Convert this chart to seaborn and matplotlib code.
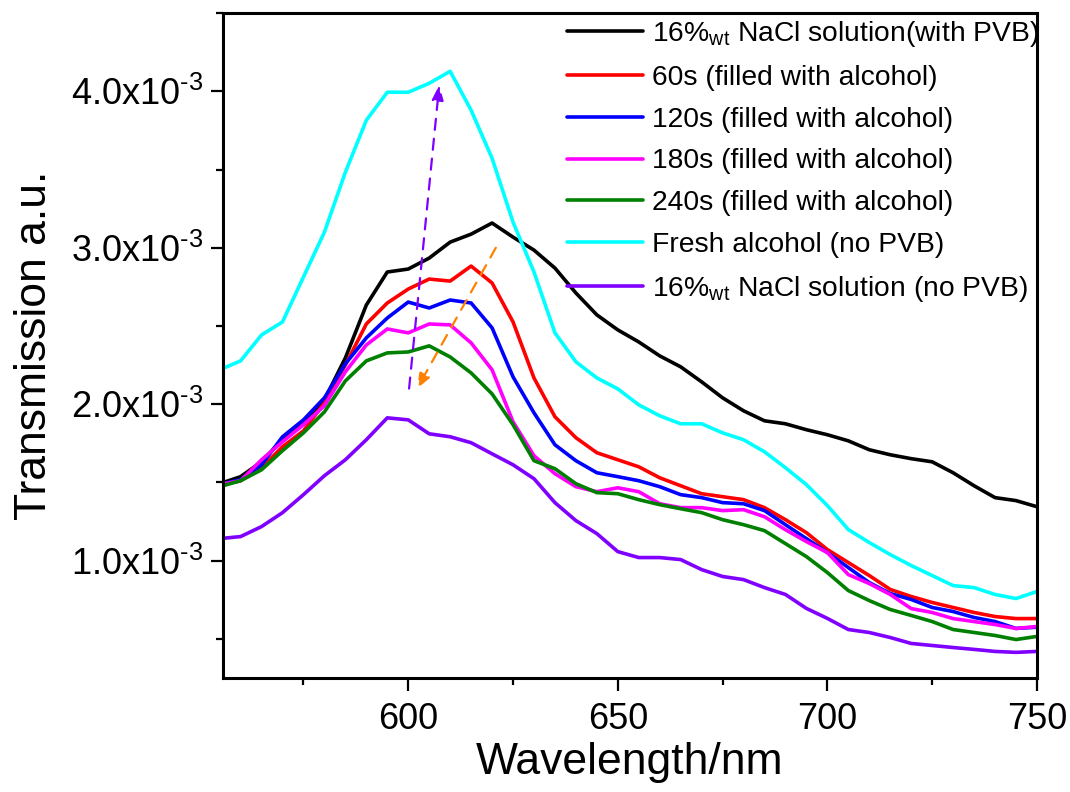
import numpy as np
import pandas as pd
import matplotlib
matplotlib.use("Agg")
import matplotlib.pyplot as plt
import seaborn as sns
from matplotlib.ticker import MultipleLocator, FuncFormatter

# wavelength grid (nm) every 5 nm
wavelength = [555, 560, 565, 570, 575, 580, 585, 590, 595, 600,
              605, 610, 615, 620, 625, 630, 635, 640, 645, 650,
              655, 660, 665, 670, 675, 680, 685, 690, 695, 700,
              705, 710, 715, 720, 725, 730, 735, 740, 745, 750]

# transmission values in units of 1e-3
nacl_pvb = [1.492, 1.537, 1.632, 1.773, 1.881, 2.028, 2.296, 2.634, 2.845, 2.864,
            2.934, 3.036, 3.087, 3.158, 3.068, 2.985, 2.870, 2.711, 2.571, 2.475,
            2.398, 2.309, 2.239, 2.143, 2.041, 1.958, 1.894, 1.875, 1.837, 1.805,
            1.766, 1.709, 1.677, 1.652, 1.632, 1.562, 1.479, 1.403, 1.384, 1.345]
s60 = [1.486, 1.511, 1.594, 1.728, 1.830, 2.009, 2.251, 2.513, 2.647, 2.736,
       2.800, 2.787, 2.883, 2.775, 2.526, 2.168, 1.920, 1.786, 1.690, 1.645,
       1.600, 1.530, 1.479, 1.428, 1.409, 1.390, 1.339, 1.262, 1.179, 1.071,
       0.988, 0.905, 0.816, 0.771, 0.733, 0.701, 0.669, 0.643, 0.630, 0.630]
s120 = [1.486, 1.518, 1.613, 1.792, 1.900, 2.041, 2.258, 2.424, 2.551, 2.653,
        2.615, 2.666, 2.647, 2.488, 2.175, 1.945, 1.741, 1.639, 1.562, 1.537,
        1.511, 1.473, 1.422, 1.403, 1.371, 1.364, 1.320, 1.230, 1.141, 1.052,
        0.956, 0.860, 0.790, 0.752, 0.701, 0.675, 0.637, 0.611, 0.567, 0.575]
s180 = [1.486, 1.511, 1.645, 1.760, 1.869, 1.990, 2.207, 2.379, 2.481, 2.456,
        2.513, 2.507, 2.392, 2.220, 1.888, 1.671, 1.556, 1.473, 1.441, 1.466,
        1.441, 1.364, 1.339, 1.339, 1.320, 1.326, 1.281, 1.198, 1.122, 1.052,
        0.911, 0.854, 0.784, 0.694, 0.669, 0.630, 0.611, 0.592, 0.567, 0.579]
s240 = [1.473, 1.511, 1.581, 1.703, 1.817, 1.951, 2.149, 2.277, 2.328, 2.334,
        2.373, 2.302, 2.200, 2.066, 1.869, 1.639, 1.588, 1.492, 1.435, 1.428,
        1.390, 1.358, 1.332, 1.307, 1.262, 1.230, 1.192, 1.109, 1.026, 0.924,
        0.809, 0.745, 0.688, 0.650, 0.611, 0.560, 0.541, 0.522, 0.496, 0.516]
fresh_alcohol = [2.220, 2.277, 2.443, 2.526, 2.813, 3.100, 3.483, 3.815, 3.994, 3.994,
                 4.051, 4.128, 3.879, 3.572, 3.164, 2.845, 2.456, 2.271, 2.168, 2.098,
                 1.996, 1.926, 1.875, 1.875, 1.817, 1.773, 1.696, 1.594, 1.486, 1.352,
                 1.199, 1.116, 1.039, 0.969, 0.905, 0.841, 0.828, 0.784, 0.758, 0.803]
nacl_no_pvb = [1.141, 1.154, 1.218, 1.307, 1.422, 1.543, 1.645, 1.773, 1.913, 1.900,
               1.811, 1.792, 1.754, 1.683, 1.613, 1.524, 1.371, 1.256, 1.173, 1.058,
               1.020, 1.020, 1.007, 0.943, 0.899, 0.879, 0.828, 0.784, 0.695, 0.631,
               0.560, 0.541, 0.509, 0.471, 0.458, 0.445, 0.433, 0.420, 0.414, 0.420]

labels = ["16%$_{\\mathrm{wt}}$ NaCl solution(with PVB)",
          "60s (filled with alcohol)",
          "120s (filled with alcohol)",
          "180s (filled with alcohol)",
          "240s (filled with alcohol)",
          "Fresh alcohol (no PVB)",
          "16%$_{\\mathrm{wt}}$ NaCl solution (no PVB)"]
colors = ["#000000", "#FF0000", "#0000FF", "#FF00FF", "#008000", "#00FFFF", "#8000FF"]
series = [nacl_pvb, s60, s120, s180, s240, fresh_alcohol, nacl_no_pvb]

# arrows (start -> end) in data units (y in 1e-3)
arrow_up = (600.2, 2.10, 607.4, 4.04)
arrow_down = (620.9, 3.00, 602.1, 2.10)

df = pd.concat([pd.DataFrame({"wl": wavelength,
                              "T": np.array(v) * 1e-3,
                              "name": lab})
                for lab, v in zip(labels, series)], ignore_index=True)

sns.set_style("ticks")
plt.rcParams["font.family"] = ["Liberation Sans", "DejaVu Sans"]
plt.rcParams["mathtext.fontset"] = "custom"
plt.rcParams["mathtext.rm"] = "Liberation Sans"
plt.rcParams["mathtext.it"] = "Liberation Sans:italic"
plt.rcParams["mathtext.bf"] = "Liberation Sans:bold"
plt.rcParams["axes.unicode_minus"] = False
plt.rcParams["text.color"] = "black"
plt.rcParams["axes.labelcolor"] = "black"
plt.rcParams["xtick.color"] = "black"
plt.rcParams["ytick.color"] = "black"

fig = plt.figure(figsize=(10.7, 7.92), dpi=100)
ax = fig.add_axes([0.2084, 0.1439, 0.7607, 0.8396])

sns.lineplot(data=df, x="wl", y="T", hue="name", hue_order=labels,
             palette=dict(zip(labels, colors)), linewidth=2.6, ax=ax, sort=False)

ax.annotate("", xy=(arrow_up[2], arrow_up[3] * 1e-3), xytext=(arrow_up[0], arrow_up[1] * 1e-3),
            arrowprops=dict(arrowstyle="-|>,head_length=0.9,head_width=0.35", color="#8000FF",
                            lw=1.6, linestyle=(0, (5, 4)), shrinkA=0, shrinkB=0))
ax.annotate("", xy=(arrow_down[2], arrow_down[3] * 1e-3), xytext=(arrow_down[0], arrow_down[1] * 1e-3),
            arrowprops=dict(arrowstyle="-|>,head_length=0.9,head_width=0.35", color="#FF8000",
                            lw=1.6, linestyle=(0, (5, 4)), shrinkA=0, shrinkB=0))

ax.set_xlim(555.8, 750)
ax.set_ylim(0.25e-3, 4.5e-3)
ax.xaxis.set_major_locator(MultipleLocator(50))
ax.xaxis.set_minor_locator(MultipleLocator(25))
ax.yaxis.set_major_locator(MultipleLocator(1e-3))
ax.yaxis.set_minor_locator(MultipleLocator(0.5e-3))
ax.yaxis.set_major_formatter(FuncFormatter(lambda v, p: f"{v * 1e3:.1f}x10$^{{\\text{{-3}}}}$"))

ax.tick_params(axis="both", which="major", direction="out", length=9, width=1.6,
               labelsize=26, top=False, right=False, color="black", labelcolor="black")
ax.tick_params(axis="both", which="minor", direction="out", length=5, width=1.6,
               top=False, right=False, color="black")
ax.tick_params(axis="x", pad=8)
ax.tick_params(axis="y", pad=5)
for s in ax.spines.values():
    s.set_linewidth(2.2)
    s.set_color("black")

ax.set_xlabel("Wavelength/nm", fontsize=32, labelpad=4)
ax.set_ylabel("Transmission a.u.", fontsize=32, labelpad=12)

ax.legend(loc="upper right", bbox_to_anchor=(1.016, 1.008), frameon=False, fontsize=20.3,
          handlelength=2.7, handletextpad=0.3, labelspacing=0.56, borderaxespad=0.0)

fig.savefig("out.png", dpi=100)
